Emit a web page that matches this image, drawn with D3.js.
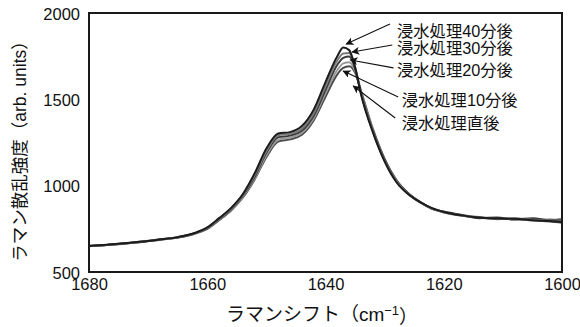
<!DOCTYPE html>
<html>
<head>
<meta charset="utf-8">
<script src="https://cdn.jsdelivr.net/npm/d3@7.9.0/dist/d3.min.js"></script>
<style>
  body { margin: 0; background: #fff; }
  svg { display: block; }
  text { font-family: "Liberation Sans", "Noto Sans CJK JP", sans-serif; fill: #111; }
</style>
</head>
<body>
<div id="chart"></div>
<script>
// wavenumbers (cm-1)
const wavenumbers = [1680, 1677, 1674, 1671, 1668, 1665, 1662, 1660, 1658, 1656, 1654, 1652, 1650,
  1648, 1646, 1644, 1642, 1640, 1638, 1637, 1636, 1635, 1634, 1632, 1630, 1628, 1626, 1624, 1622,
  1620, 1617, 1614, 1611, 1608, 1605, 1602, 1600];

// intensities
const min40 = [651, 658, 667, 676, 688, 702, 727, 758, 812, 870, 950, 1070, 1215,
  1302, 1310, 1345, 1440, 1600, 1750, 1800, 1785, 1685, 1530, 1310, 1140, 1020, 950, 905, 870,
  848, 828, 815, 810, 808, 800, 795, 790];
const min30 = [652, 657, 666, 677, 687, 703, 725, 755, 808, 866, 945, 1060, 1200,
  1292, 1300, 1330, 1420, 1575, 1725, 1765, 1768, 1690, 1535, 1315, 1145, 1025, 952, 903, 868,
  846, 826, 818, 806, 810, 803, 798, 800];
const min20 = [650, 656, 665, 675, 689, 700, 726, 753, 805, 862, 940, 1050, 1190,
  1280, 1290, 1318, 1405, 1555, 1700, 1740, 1748, 1680, 1540, 1320, 1150, 1028, 955, 906, 866,
  850, 830, 812, 815, 804, 812, 800, 805];
const min10 = [651, 657, 664, 676, 686, 701, 724, 752, 803, 858, 935, 1040, 1175,
  1265, 1278, 1305, 1390, 1535, 1670, 1708, 1715, 1665, 1545, 1325, 1152, 1030, 953, 904, 870,
  845, 832, 816, 808, 812, 798, 805, 795];
const min0 = [649, 656, 666, 674, 688, 699, 723, 750, 800, 855, 930, 1035, 1165,
  1255, 1268, 1295, 1378, 1515, 1645, 1682, 1692, 1655, 1550, 1330, 1155, 1032, 956, 905, 868,
  848, 828, 814, 810, 806, 800, 792, 785];

const seriesNames = ['浸水処理40分後', '浸水処理30分後', '浸水処理20分後', '浸水処理10分後', '浸水処理直後'];
const seriesValues = [min40, min30, min20, min10, min0];
const seriesColors = ['#1c1c1c', '#7a7a7a', '#3a3a3a', '#9a9a9a', '#4a4a4a'];

const xTicks = [1680, 1660, 1640, 1620, 1600];
const yTicks = [500, 1000, 1500, 2000];

// label anchor (wavenumber, intensity) and arrow tail/tip
const labelPos = [[1627.9, 1893], [1627.9, 1797], [1627.9, 1670], [1627.1, 1496], [1627.1, 1363]];
const arrowTail = [[1629.1, 1936], [1628.7, 1815], [1628.5, 1682], [1627.7, 1514], [1628.2, 1392]];
const arrowTip = [[1636.5, 1820], [1635.5, 1774], [1635.8, 1728], [1637.0, 1664], [1635.3, 1577]];

const width = 580, height = 327;
const margin = { top: 13, right: 18, bottom: 55, left: 89 };

const svg = d3.select('#chart').append('svg')
  .attr('width', width)
  .attr('height', height);

const x = d3.scaleLinear().domain([1680, 1600]).range([margin.left, width - margin.right]);
const y = d3.scaleLinear().domain([500, 2000]).range([height - margin.bottom, margin.top]);

const defs = svg.append('defs');
defs.append('marker')
  .attr('id', 'arrow')
  .attr('viewBox', '0 0 10 10')
  .attr('refX', 9).attr('refY', 5)
  .attr('markerWidth', 11).attr('markerHeight', 8)
  .attr('markerUnits', 'userSpaceOnUse')
  .attr('orient', 'auto')
  .append('path')
  .attr('d', 'M0,0 L10,5 L0,10 L2.5,5 Z')
  .attr('fill', '#111');

// curves
const line = d3.line()
  .x(d => x(d[0]))
  .y(d => y(d[1]))
  .curve(d3.curveMonotoneX);

const series = seriesNames.map((name, i) => ({
  name,
  color: seriesColors[i],
  points: wavenumbers.map((w, j) => [w, seriesValues[i][j]])
}));

svg.append('g')
  .selectAll('path')
  .data(series.slice().reverse())
  .join('path')
  .attr('d', d => line(d.points))
  .attr('fill', 'none')
  .attr('stroke', d => d.color)
  .attr('stroke-width', 2)
  .attr('stroke-linejoin', 'round');

// frame
svg.append('rect')
  .attr('x', x(1680))
  .attr('y', y(2000))
  .attr('width', x(1600) - x(1680))
  .attr('height', y(500) - y(2000))
  .attr('fill', 'none')
  .attr('stroke', '#1a1a1a')
  .attr('stroke-width', 2);

// axes
const xAxis = svg.append('g')
  .attr('transform', `translate(0, ${y(500)})`)
  .call(d3.axisBottom(x).tickValues(xTicks).tickSize(0).tickPadding(6).tickFormat(d3.format('d')));
xAxis.select('.domain').remove();
xAxis.selectAll('text').style('font-size', '16.5px').attr('fill', '#111');

const yAxis = svg.append('g')
  .attr('transform', `translate(${x(1680)}, 0)`)
  .call(d3.axisLeft(y).tickValues(yTicks).tickSize(0).tickPadding(9).tickFormat(d3.format('d')));
yAxis.select('.domain').remove();
yAxis.selectAll('text').style('font-size', '16.5px').attr('fill', '#111').attr('dy', '0.38em');

// axis titles
const xTitle = svg.append('text')
  .attr('x', 322)
  .attr('y', 321)
  .attr('text-anchor', 'middle')
  .style('font-size', '19px');
xTitle.append('tspan').text('ラマンシフト（cm');
xTitle.append('tspan').text('−1').attr('dy', '-0.45em').style('font-size', '13px');
xTitle.append('tspan').text('）').attr('dy', '0.45em');

svg.append('text')
  .attr('transform', 'translate(20, 147) rotate(-90)')
  .attr('text-anchor', 'middle')
  .attr('dy', '0.36em')
  .style('font-size', '17.5px')
  .text('ラマン散乱強度（arb. units）');

// annotations
svg.append('g')
  .selectAll('line')
  .data(seriesNames.map((n, i) => i))
  .join('line')
  .attr('x1', i => x(arrowTail[i][0]))
  .attr('y1', i => y(arrowTail[i][1]))
  .attr('x2', i => x(arrowTip[i][0]))
  .attr('y2', i => y(arrowTip[i][1]))
  .attr('stroke', '#111')
  .attr('stroke-width', 1.1)
  .attr('marker-end', 'url(#arrow)');

svg.append('g')
  .selectAll('text')
  .data(seriesNames)
  .join('text')
  .attr('x', (d, i) => x(labelPos[i][0]))
  .attr('y', (d, i) => y(labelPos[i][1]))
  .attr('dy', '0.35em')
  .style('font-size', '16.3px')
  .text(d => d);
</script>
</body>
</html>
